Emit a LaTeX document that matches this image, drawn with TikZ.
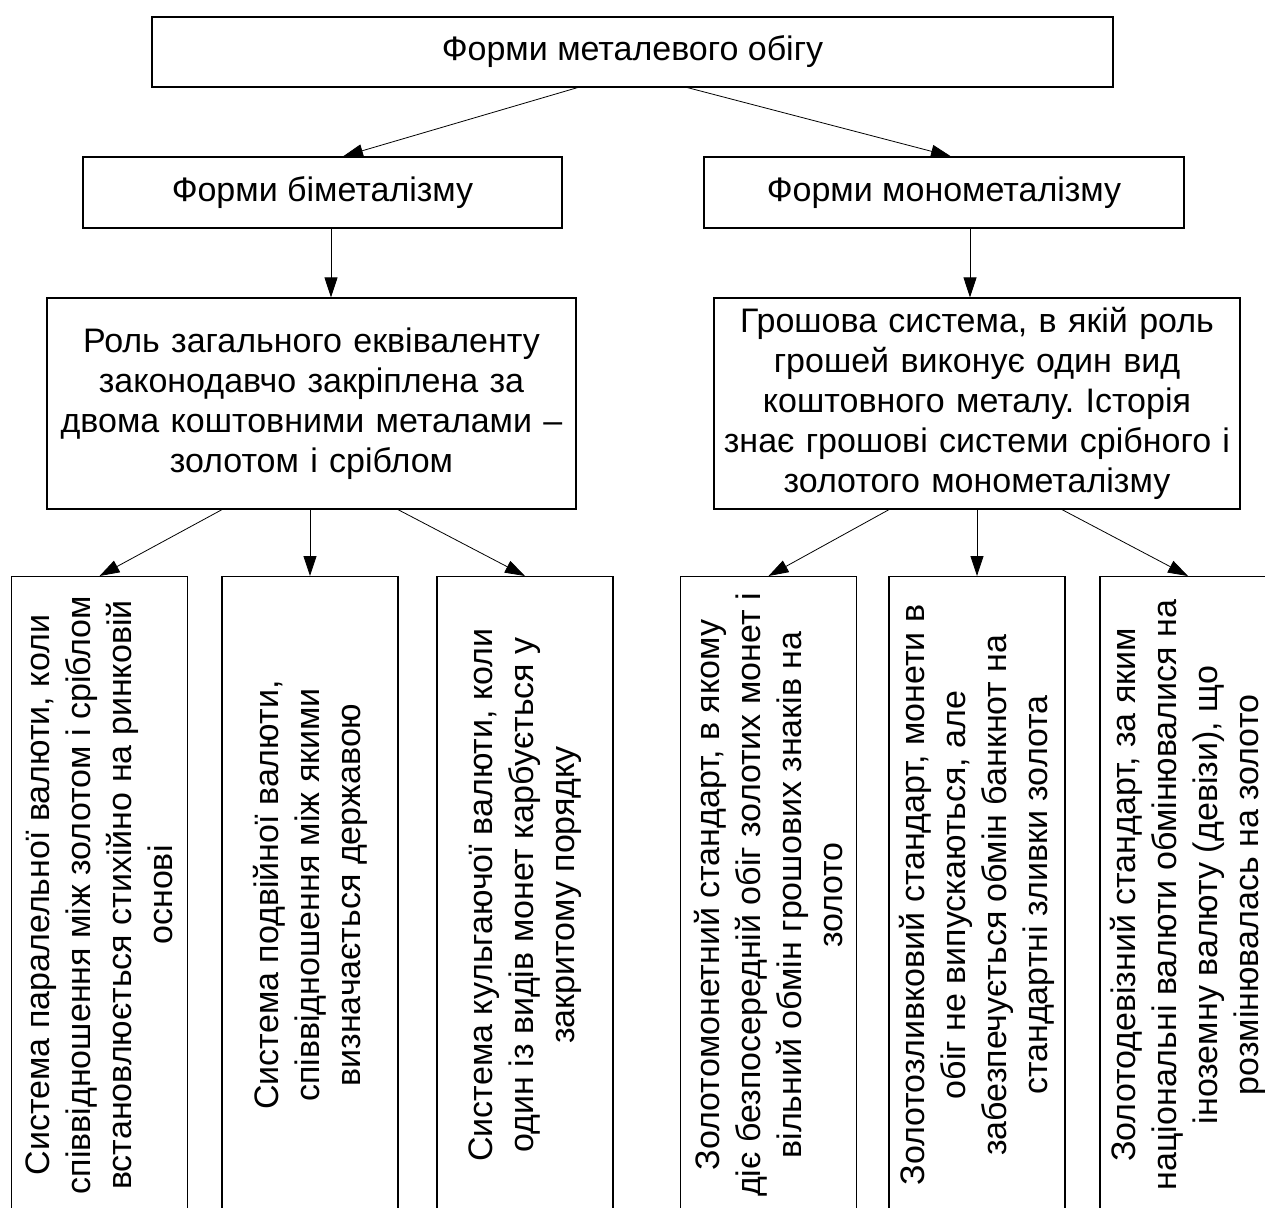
\documentclass[tikz,border=0pt]{standalone}
\usepackage{fontspec}
\setmainfont{Liberation Sans}
\frenchspacing
\usetikzlibrary{arrows.meta, calc, positioning}

\tikzset{
    box/.style={draw, line width=0.6pt, align=center, inner sep=0pt,
        font=\fontsize{17}{20}\selectfont},
    lowbox/.style={draw, line width=0.6pt, anchor=north, minimum width=88pt, minimum height=350pt},
    lowtext/.style={rotate=90, align=center, inner sep=0pt,
        font=\fontsize{17}{20.5}\selectfont}
}

\begin{document}
\begin{tikzpicture}[x=0.5pt, y=-0.5pt, >={Triangle[length=10pt, width=6.5pt]}]
    \useasboundingbox (0,0) rectangle (1265,1207);
    \clip (0,0) rectangle (1265,1207);

    \node[box, minimum width=480.5pt, minimum height=35pt] (forms) at (632.5,52) {Форми металевого обігу};
    \node[box, minimum width=239.5pt, minimum height=35.5pt] (bimet) at (322.5,192.5) {Форми біметалізму};
    \node[box, minimum width=240pt, minimum height=35.5pt] (monomet) at (944,192.5) {Форми монометалізму};

    \node[box, text width=264.5pt, minimum height=105.5pt] (bimetdef) at (311.5,403.5)
        {Роль загального еквіваленту\\законодавчо закріплена за\\двома коштовними металами –\\золотом і сріблом};
    \node[box, text width=263pt, minimum height=105.5pt] (monodef) at (977,403.5)
        {Грошова система, в якій роль\\грошей виконує один вид\\коштовного металу. Історія\\знає грошові системи срібного і\\золотого монометалізму};

    \node[lowbox] (parallel) at (99.5,576) {};
    \node[lowbox] (dual) at (310,576) {};
    \node[lowbox] (limping) at (525,576) {};
    \node[lowbox] (coin) at (768.5,576) {};
    \node[lowbox] (bullion) at (977,576) {};
    \node[lowbox] (exchange) at (1188,576) {};

    \node[lowtext] (paralleltext) at ($(parallel.north)+(0,319)$)
        {Система паралельної валюти, коли\\співвідношення між золотом і сріблом\\встановлюється стихійно на ринковій\\основі};
    \node[lowtext] (dualtext) at ($(dual.north)+(0,319)$)
        {Система подвійної валюти,\\співвідношення між якими\\визначається державою};
    \node[lowtext] (limpingtext) at ($(limping.north)+(0,319)$)
        {Система кульгаючої валюти, коли\\один із видів монет карбується у\\закритому порядку};
    \node[lowtext] (cointext) at ($(coin.north)+(0,319)$)
        {Золотомонетний стандарт, в якому\\діє безпосередній обіг золотих монет і\\вільний обмін грошових знаків на\\золото};
    \node[lowtext] (bulliontext) at ($(bullion.north)+(0,319)$)
        {Золотозливковий стандарт, монети в\\обіг не випускаються, але\\забезпечується обмін банкнот  на\\стандартні зливки золота};
    \node[lowtext] (exchangetext) at ($(exchange.north)+(0,319)$)
        {Золотодевізний стандарт, за яким\\національні валюти обмінювалися на\\іноземну валюту (девізи), що\\розмінювалась на золото};

    \draw
    ($(forms.south)+(-55,0)$) edge[->] ($(bimet.north)+(20.5,0)$)
    ($(forms.south)+(55,0)$) edge[->] ($(monomet.north)+(7,0)$)
    ($(bimet.south)+(8.5,0)$) edge[->] ($(bimetdef.north)+(19.5,0)$)
    ($(monomet.south)+(26,0)$) edge[->] ($(monodef.north)+(-7,0)$);

    \draw
    ($(bimetdef.south)+(-89.5,0)$) edge[->] (parallel.north)
    ($(bimetdef.south)+(-1.5,0)$) edge[->] (dual.north)
    ($(bimetdef.south)+(86.5,0)$) edge[->] (limping.north)
    ($(monodef.south)+(-88,0)$) edge[->] (coin.north)
    (monodef.south) edge[->] (bullion.north)
    ($(monodef.south)+(85,0)$) edge[->] (exchange.north);
\end{tikzpicture}
\end{document}
